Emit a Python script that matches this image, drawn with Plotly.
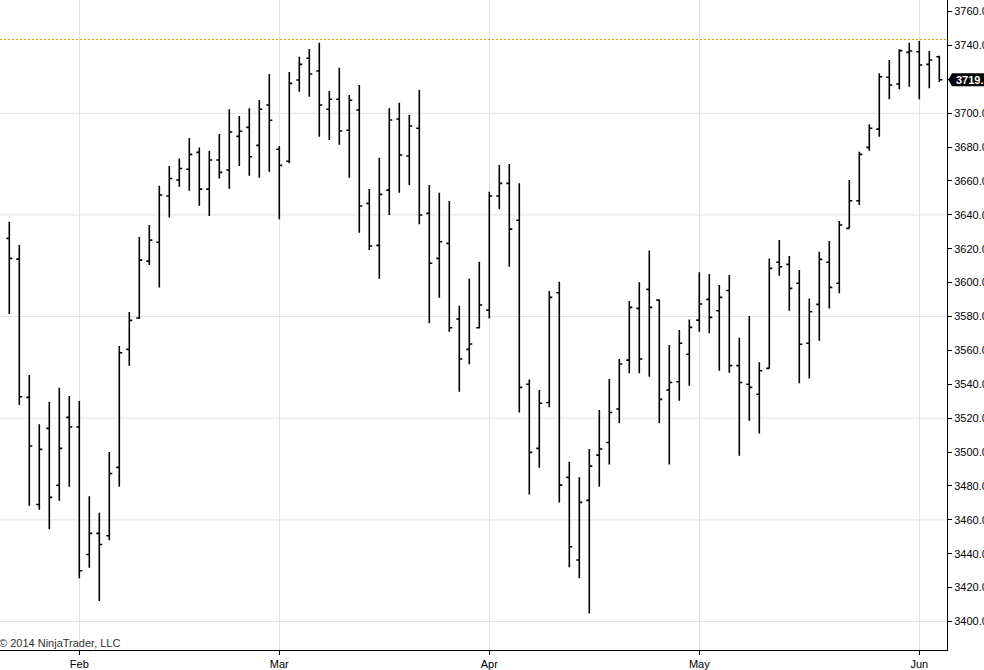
import pandas as pd
import plotly.graph_objects as go

# ---- data ----
opens = [3626.1, 3613.9, 3532.3, 3469.1, 3514.0, 3480.4, 3520.5, 3514.8, 3439.6, 3452.0,
         3450.6, 3491.0, 3560.6, 3579.1, 3612.7, 3623.8, 3651.1, 3660.6, 3666.9, 3676.9,
         3655.2, 3672.4, 3666.5, 3686.3, 3691.6, 3681.0, 3704.8, 3678.7, 3671.6, 3719.6,
         3732.4, 3724.9, 3702.3, 3708.2, 3689.9, 3701.9, 3646.8, 3622.0, 3654.6, 3696.6,
         3674.7, 3691.1, 3640.9, 3614.3, 3623.2, 3578.5, 3560.6, 3573.4, 3583.8, 3651.1,
         3658.6, 3636.8, 3540.0, 3502.2, 3529.3, 3594.0, 3485.1, 3436.3, 3471.5, 3498.2,
         3505.7, 3525.4, 3554.3, 3584.8, 3596.0, 3589.7, 3536.6, 3541.5, 3557.7, 3577.9,
         3590.1, 3583.4, 3595.4, 3551.0, 3540.0, 3534.1, 3549.4, 3612.0, 3610.8, 3599.6,
         3564.2, 3587.2, 3612.0, 3599.6, 3632.0, 3648.3, 3679.8, 3690.6, 3721.2, 3717.2,
         3735.9, 3736.3, 3728.8, 3733.3]
highs = [3635.9, 3622.2, 3545.5, 3516.5, 3529.7, 3538.0, 3533.1, 3530.1, 3474.0, 3464.2,
         3500.0, 3562.6, 3582.6, 3626.9, 3634.0, 3657.2, 3668.8, 3673.3, 3685.3, 3679.8,
         3677.7, 3687.7, 3702.3, 3698.3, 3702.9, 3707.8, 3723.1, 3680.6, 3724.3, 3733.3,
         3737.9, 3741.6, 3713.1, 3726.8, 3710.7, 3716.6, 3655.2, 3673.7, 3702.9, 3706.2,
         3698.9, 3713.7, 3657.6, 3653.1, 3648.2, 3586.4, 3602.3, 3612.3, 3653.7, 3669.4,
         3670.0, 3658.6, 3542.9, 3536.6, 3595.0, 3600.5, 3494.3, 3485.1, 3501.8, 3524.8,
         3543.1, 3554.9, 3589.1, 3600.2, 3619.0, 3590.1, 3563.2, 3572.0, 3578.3, 3606.1,
         3605.1, 3598.6, 3604.5, 3567.5, 3580.3, 3553.0, 3614.3, 3625.1, 3615.7, 3607.4,
         3590.7, 3618.2, 3624.5, 3636.4, 3660.6, 3677.3, 3693.4, 3723.5, 3731.4, 3737.7,
         3741.6, 3742.6, 3736.7, 3733.9]
lows = [3581.5, 3527.8, 3468.3, 3466.0, 3454.4, 3471.3, 3479.6, 3425.5, 3431.7, 3412.1,
        3447.9, 3479.6, 3551.0, 3578.5, 3610.4, 3597.2, 3638.5, 3656.6, 3654.2, 3645.4,
        3639.3, 3661.5, 3655.4, 3668.8, 3663.1, 3661.9, 3665.5, 3637.4, 3670.4, 3712.7,
        3709.7, 3686.1, 3684.2, 3681.4, 3661.9, 3629.5, 3619.2, 3602.3, 3639.9, 3653.1,
        3657.6, 3634.4, 3576.0, 3591.1, 3571.0, 3535.6, 3551.8, 3573.0, 3578.9, 3643.3,
        3609.4, 3523.4, 3475.0, 3490.8, 3526.4, 3470.3, 3432.0, 3425.5, 3404.8, 3479.6,
        3492.7, 3517.0, 3546.5, 3546.5, 3544.5, 3517.0, 3492.7, 3530.3, 3539.2, 3571.0,
        3570.1, 3548.0, 3546.8, 3497.8, 3518.5, 3511.0, 3549.4, 3604.1, 3583.4, 3540.6,
        3543.5, 3565.7, 3584.8, 3593.7, 3632.0, 3645.8, 3677.8, 3686.1, 3708.2, 3714.1,
        3715.6, 3708.2, 3714.7, 3718.4]
closes = [3614.3, 3532.7, 3503.6, 3501.6, 3473.3, 3502.2, 3514.8, 3430.0, 3452.0, 3445.5,
          3487.4, 3558.6, 3577.7, 3613.3, 3625.1, 3651.7, 3661.5, 3667.4, 3675.7, 3655.2,
          3672.4, 3665.1, 3688.9, 3689.3, 3674.3, 3702.3, 3695.8, 3669.2, 3717.6, 3728.8,
          3723.1, 3704.8, 3708.2, 3689.5, 3707.6, 3645.2, 3621.6, 3652.1, 3696.0, 3675.3,
          3692.4, 3639.9, 3611.4, 3624.1, 3573.4, 3554.9, 3563.8, 3586.8, 3651.1, 3658.6,
          3631.6, 3538.2, 3499.8, 3528.8, 3591.3, 3480.5, 3444.1, 3470.3, 3491.7, 3501.8,
          3523.4, 3552.0, 3585.4, 3554.9, 3585.4, 3531.1, 3541.1, 3564.2, 3573.6, 3587.4,
          3579.5, 3591.3, 3551.0, 3541.1, 3538.2, 3548.0, 3608.4, 3609.4, 3596.6, 3563.6,
          3582.8, 3613.7, 3597.2, 3634.0, 3648.3, 3675.7, 3691.1, 3721.5, 3716.6, 3736.9,
          3736.7, 3728.4, 3731.4, 3719.7]

# trading sessions (futures calendar: weekdays, Good Friday closed)
session_dates = [d.strftime("%Y-%m-%d")
                 for d in pd.bdate_range("2014-01-23", "2014-06-04")
                 if d.strftime("%Y-%m-%d") != "2014-04-18"]

month_labels = ["Feb", "Mar", "Apr", "May", "Jun"]
month_keys = ["2014-02", "2014-03", "2014-04", "2014-05", "2014-06"]
month_tickvals = [next(d for d in session_dates if d.startswith(k)) for k in month_keys]

grid_levels = [3400, 3460, 3520, 3580, 3640, 3700]
level_line = 3743.5
copyright_text = "© 2014 NinjaTrader, LLC"

# ---- layout geometry ----
W, H = 984, 670
M_R, M_B = 37, 20
plot_w = W - M_R
plot_h = H - M_B
y_min, y_max = 3383.2, 3766.8
x_range = [-0.93, 93.77]
FONT = "Liberation Sans, Arial, sans-serif"

fig = go.Figure()
fig.add_trace(go.Ohlc(
    x=session_dates, open=opens, high=highs, low=lows, close=closes,
    increasing=dict(line=dict(color="black", width=1.6)),
    decreasing=dict(line=dict(color="black", width=1.6)),
    tickwidth=0.3, hoverinfo="skip", showlegend=False,
))

shapes = []
for lv in grid_levels:
    shapes.append(dict(type="line", xref="paper", yref="y", x0=0, x1=1, y0=lv, y1=lv,
                       line=dict(color="#e3e3e3", width=1), layer="below"))
shapes.append(dict(type="line", xref="paper", yref="y", x0=0, x1=1,
                   y0=level_line, y1=level_line,
                   line=dict(color="#e89a00", width=1.2, dash="2px,2px"), layer="above"))

# last-price marker (pentagon pointing at the axis)
last = closes[-1]
u_per_px = (y_max - y_min) / plot_h
hh = 6.5 * u_per_px
tip = 1 + 1.3 / plot_w
base = 1 + 5.0 / plot_w
end = 1 + 60.0 / plot_w
shapes.append(dict(type="path", xref="paper", yref="y",
                   path=(f"M {tip},{last} L {base},{last + hh} L {end},{last + hh} "
                         f"L {end},{last - hh} L {base},{last - hh} Z"),
                   fillcolor="black", line=dict(width=0), layer="above"))

fig.update_layout(
    width=W, height=H,
    margin=dict(l=0, r=M_R, t=0, b=M_B, pad=0),
    paper_bgcolor="white", plot_bgcolor="white",
    font=dict(family=FONT, size=11, color="#000000"),
    shapes=shapes,
    xaxis=dict(type="category", range=x_range, rangeslider=dict(visible=False),
               tickmode="array", tickvals=month_tickvals, ticktext=month_labels,
               showgrid=True, gridcolor="#e3e3e3", gridwidth=1,
               showline=True, linecolor="black", linewidth=1,
               ticks="outside", ticklen=4, tickcolor="black",
               tickfont=dict(family=FONT, size=11, color="#000000"),
               ticklabeloverflow="allow",
               zeroline=False, automargin=False, fixedrange=True),
    yaxis=dict(side="right", range=[y_min, y_max], tick0=3400, dtick=20,
               tickformat=".1f", showgrid=False, zeroline=False,
               showline=True, linecolor="black", linewidth=1,
               ticks="outside", ticklen=4, tickcolor="black",
               tickfont=dict(family=FONT, size=11, color="#000000"),
               ticklabeloverflow="allow",
               automargin=False, fixedrange=True),
    annotations=[
        dict(text=copyright_text, xref="paper", yref="paper", x=0, y=0,
             xanchor="left", yanchor="bottom", xshift=-3, yshift=-1, showarrow=False,
             font=dict(family=FONT, size=11, color="#333333")),
        dict(text=f"<b>{last:.1f}</b>", xref="paper", yref="y", x=1, y=last,
             xanchor="left", yanchor="middle", xshift=7, showarrow=False,
             font=dict(family=FONT, size=11, color="white")),
    ],
)

fig.write_html("out.html", config={"displayModeBar": False},
               post_script="document.body.style.margin='0px';")
